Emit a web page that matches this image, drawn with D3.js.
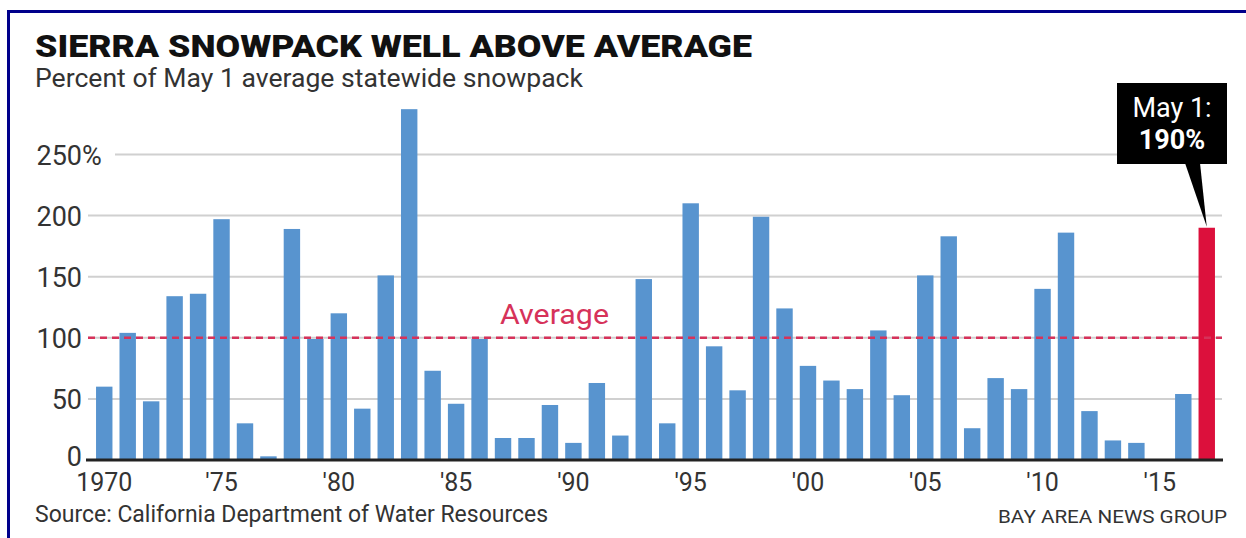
<!DOCTYPE html>
<html>
<head>
<meta charset="utf-8">
<script src="https://cdn.jsdelivr.net/npm/d3@7"></script>
<style>
  html, body { margin: 0; padding: 0; background: #fff; }
  svg { display: block; }
  text { font-family: Roboto, "Liberation Sans", sans-serif; }
</style>
</head>
<body>
<svg id="chart" width="1246" height="538"></svg>
<script>
// Sierra snowpack, percent of May 1 average, 1970–2017
const years = [
  1970, 1971, 1972, 1973, 1974, 1975, 1976, 1977, 1978, 1979,
  1980, 1981, 1982, 1983, 1984, 1985, 1986, 1987, 1988, 1989,
  1990, 1991, 1992, 1993, 1994, 1995, 1996, 1997, 1998, 1999,
  2000, 2001, 2002, 2003, 2004, 2005, 2006, 2007, 2008, 2009,
  2010, 2011, 2012, 2013, 2014, 2015, 2016, 2017
];
const snowpackPct = [
  60, 104, 48, 134, 136, 197, 30, 3, 189, 99,
  120, 42, 151, 287, 73, 46, 99, 18, 18, 45,
  14, 63, 20, 148, 30, 210, 93, 57, 199, 124,
  77, 65, 58, 106, 53, 151, 183, 26, 67, 58,
  140, 186, 40, 16, 14, 0, 54, 190
];
const averagePct = 100;
const yTickValues = [0, 50, 100, 150, 200, 250];
const xTickYears = [1970, 1975, 1980, 1985, 1990, 1995, 2000, 2005, 2010, 2015];
const highlightYear = 2017;

const data = years.map((yr, i) => ({ year: yr, value: snowpackPct[i] }));

const svg = d3.select("#chart");

const BLUE = "#5894cf";
const RED = "#dc103c";
const AVG = "#d6325a";
const INK = "#333";

// frame
svg.append("path")
  .attr("d", "M8.5,538 L8.5,11.5 L1246,11.5")
  .attr("fill", "none")
  .attr("stroke", "#00008b")
  .attr("stroke-width", 3);

// scales
const x = d3.scaleBand()
  .domain(years)
  .range([89, 1222])
  .padding(0.3);

const y = d3.scaleLinear()
  .domain([0, 250])
  .range([460, 154.4]);

// gridlines
svg.append("g")
  .selectAll("line")
  .data(yTickValues.filter(d => d > 0))
  .join("line")
  .attr("x1", d => d === 250 ? 115 : 88)
  .attr("x2", 1222)
  .attr("y1", d => y(d))
  .attr("y2", d => y(d))
  .attr("stroke", "#d0d0d0")
  .attr("stroke-width", 2);

// y axis labels
const yAxis = svg.append("g")
  .attr("transform", "translate(82,0)")
  .call(d3.axisLeft(y).tickValues(yTickValues).tickSize(0).tickPadding(0).tickFormat(d3.format("d")));
yAxis.select(".domain").remove();
yAxis.selectAll("text")
  .attr("fill", INK)
  .attr("font-size", 27)
  .attr("font-family", "Roboto, sans-serif")
  .attr("dy", d => d === 0 ? "0.22em" : "0.36em");
// percent sign hangs to the right of the top label
yAxis.selectAll(".tick").filter(d => d === 250)
  .append("text")
  .attr("x", 0)
  .attr("dy", "0.36em")
  .attr("text-anchor", "start")
  .attr("fill", INK)
  .attr("font-size", 27)
  .attr("font-family", "Roboto, sans-serif")
  .text("%");

// bars
svg.append("g")
  .selectAll("rect")
  .data(data)
  .join("rect")
  .attr("x", d => x(d.year))
  .attr("width", x.bandwidth())
  .attr("y", d => y(d.value))
  .attr("height", d => y(0) - y(d.value))
  .attr("fill", d => d.year === highlightYear ? RED : BLUE);

// average line
svg.append("line")
  .attr("x1", 88)
  .attr("x2", 1222)
  .attr("y1", y(averagePct))
  .attr("y2", y(averagePct))
  .attr("stroke", AVG)
  .attr("stroke-width", 2.5)
  .attr("stroke-dasharray", "7,5");

svg.append("text")
  .attr("x", 500)
  .attr("y", 324)
  .attr("fill", AVG)
  .attr("font-size", 27)
  .attr("textLength", 109)
  .attr("lengthAdjust", "spacingAndGlyphs")
  .text("Average");

// x axis
const xAxis = svg.append("g")
  .attr("transform", `translate(0,${y(0)})`)
  .call(d3.axisBottom(x)
    .tickValues(xTickYears)
    .tickSize(0)
    .tickPadding(0)
    .tickFormat(d => d === 1970 ? "1970" : "'" + String(d).slice(2)));
xAxis.select(".domain").remove();
xAxis.selectAll("text")
  .attr("fill", INK)
  .attr("font-size", 25)
  .attr("font-family", "Roboto, sans-serif")
  .attr("dy", null)
  .attr("y", 31);

svg.append("line")
  .attr("x1", 86)
  .attr("x2", 1223)
  .attr("y1", y(0))
  .attr("y2", y(0))
  .attr("stroke", "#222")
  .attr("stroke-width", 3);

// callout for the latest year
const hl = data.find(d => d.year === highlightYear);
const tipX = x(hl.year) + x.bandwidth() / 2;
const tipY = y(hl.value) - 1;
const box = { x: 1117, y: 83, w: 110, h: 81 };
svg.append("path")
  .attr("d", `M1185,${box.y + box.h - 1} L1200,${box.y + box.h - 1} L${tipX},${tipY} Z`)
  .attr("fill", "#000");
svg.append("rect")
  .attr("x", box.x).attr("y", box.y)
  .attr("width", box.w).attr("height", box.h)
  .attr("fill", "#000");
svg.append("text")
  .attr("x", box.x + box.w / 2)
  .attr("y", 116.5)
  .attr("text-anchor", "middle")
  .attr("fill", "#fff")
  .attr("font-size", 27)
  .text("May 1:");
svg.append("text")
  .attr("x", box.x + box.w / 2)
  .attr("y", 148.5)
  .attr("text-anchor", "middle")
  .attr("fill", "#fff")
  .attr("font-size", 27)
  .attr("font-weight", 700)
  .text(hl.value + "%");

// titles
svg.append("text")
  .attr("x", 35)
  .attr("y", 57)
  .attr("fill", "#111")
  .attr("font-size", 30.5)
  .attr("font-weight", 900)
  .attr("textLength", 717)
  .attr("lengthAdjust", "spacingAndGlyphs")
  .text("SIERRA SNOWPACK WELL ABOVE AVERAGE");

svg.append("text")
  .attr("x", 35)
  .attr("y", 87)
  .attr("fill", INK)
  .attr("font-size", 25)
  .attr("textLength", 548)
  .attr("lengthAdjust", "spacingAndGlyphs")
  .text("Percent of May 1 average statewide snowpack");

// footer
svg.append("text")
  .attr("x", 35)
  .attr("y", 522)
  .attr("fill", INK)
  .attr("font-size", 23)
  .attr("textLength", 513)
  .attr("lengthAdjust", "spacingAndGlyphs")
  .text("Source: California Department of Water Resources");

svg.append("text")
  .attr("x", 998)
  .attr("y", 523)
  .attr("fill", INK)
  .attr("font-size", 18.5)
  .attr("textLength", 229)
  .attr("lengthAdjust", "spacingAndGlyphs")
  .text("BAY AREA NEWS GROUP");
</script>
</body>
</html>
